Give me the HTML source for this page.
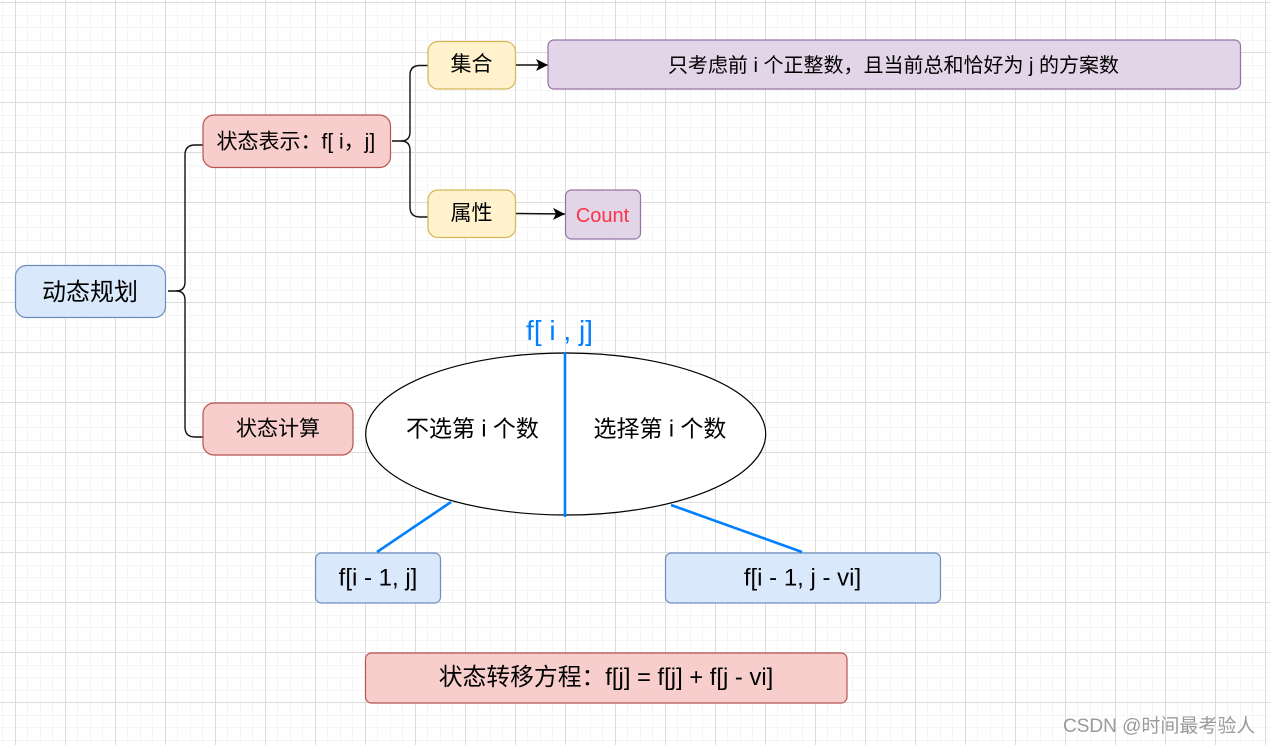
<!DOCTYPE html>
<html><head><meta charset="utf-8"><style>
html,body{margin:0;padding:0;background:#fff;width:1270px;height:745px;overflow:hidden}
svg{display:block}
text{font-family:"Liberation Sans","Noto Sans CJK SC",sans-serif;fill:#000;white-space:pre}
</style></head><body>
<svg width="1270" height="745" viewBox="0 0 1270 745" xmlns="http://www.w3.org/2000/svg">
<defs>
<pattern id="minor" x="2" y="2" width="25" height="25" patternUnits="userSpaceOnUse">
<g fill="#f5f5f5" shape-rendering="crispEdges">
<rect x="0" y="0" width="25" height="1"/><rect x="0" y="13" width="25" height="1"/>
<rect x="0" y="0" width="1" height="25"/><rect x="13" y="0" width="1" height="25"/>
</g>
</pattern>
<pattern id="major" x="15" y="2" width="50" height="50" patternUnits="userSpaceOnUse">
<g fill="#dcdcdc" shape-rendering="crispEdges">
<rect x="0" y="0" width="50" height="1"/><rect x="0" y="0" width="1" height="50"/>
</g>
</pattern>
<marker id="arr" markerUnits="userSpaceOnUse" markerWidth="14" markerHeight="14" refX="12" refY="7" orient="auto">
<path d="M0 1 L12 7 L0 13 L3 7Z" fill="#000"/>
</marker>
</defs>
<rect width="1270" height="745" fill="#fff"/>
<rect width="1270" height="745" fill="url(#minor)"/>
<rect width="1270" height="745" fill="url(#major)"/>

<g fill="none" stroke="#111" stroke-width="1.4">
<path d="M168 291H176Q185 291 185 282V155Q185 145 195 145H203"/>
<path d="M176 291Q185 291 185 300V427Q185 437 195 437H203"/>
<path d="M392 141H401Q410 141 410 132V75Q410 65.500 420 65.500H428"/>
<path d="M401 141Q410 141 410 150V207Q410 217 420 217H428"/>
<path d="M515.500 65H548" stroke-width="1.6" marker-end="url(#arr)"/>
<path d="M516 213.500L565 214" stroke-width="1.6" marker-end="url(#arr)"/>
</g>

<g stroke-width="1.2">
<rect x="15.500" y="265.500" width="150" height="52" rx="11" fill="#dae8fc" stroke="#6c8ebf"/>
<rect x="203" y="115" width="187.500" height="52.500" rx="11" fill="#f8cecc" stroke="#b85450"/>
<rect x="428" y="41.500" width="87.500" height="47.500" rx="10" fill="#fff2cc" stroke="#d6b656"/>
<rect x="428" y="190" width="87.500" height="47.500" rx="10" fill="#fff2cc" stroke="#d6b656"/>
<rect x="548" y="40" width="692.500" height="49" rx="6" fill="#e1d5e7" stroke="#9673a6"/>
<rect x="565.500" y="190" width="75" height="49" rx="6" fill="#e1d5e7" stroke="#9673a6"/>
<rect x="203" y="403" width="150" height="52" rx="11" fill="#f8cecc" stroke="#b85450"/>
<ellipse cx="565.700" cy="434" rx="200" ry="81" fill="#fff" stroke="#000"/>
<rect x="315.500" y="553" width="125" height="50" rx="6" fill="#dae8fc" stroke="#6c8ebf"/>
<rect x="665.500" y="553" width="275" height="50" rx="6" fill="#dae8fc" stroke="#6c8ebf"/>
<rect x="365.500" y="653" width="481.500" height="50" rx="6" fill="#f8cecc" stroke="#b85450"/>
</g>

<g stroke="#007fff" stroke-width="2.6" fill="none">
<path d="M565 352V517"/>
<path d="M451 502L377 552"/>
<path d="M671 505L802 552"/>
</g>

<text x="90" y="300" font-size="24" text-anchor="middle">动态规划</text>
<text x="216.500" y="148.500" font-size="21">状态表示：f[ i，j]</text>
<text x="471.500" y="71" font-size="21" text-anchor="middle">集合</text>
<text x="471.500" y="220" font-size="21" text-anchor="middle">属性</text>
<text x="893.500" y="72" font-size="20" text-anchor="middle">只考虑前 i 个正整数，且当前总和恰好为 j 的方案数</text>
<text x="602.500" y="222" font-size="20" text-anchor="middle" style="fill:#ff3347">Count</text>
<text x="278" y="435.500" font-size="21" text-anchor="middle">状态计算</text>
<text x="559.500" y="340" font-size="28" text-anchor="middle" style="fill:#007fff">f[ i , j]</text>
<text x="472.500" y="436.500" font-size="23" text-anchor="middle">不选第 i 个数</text>
<text x="660" y="436.500" font-size="23" text-anchor="middle">选择第 i 个数</text>
<text x="378" y="585.500" font-size="24" text-anchor="middle">f[i - 1, j]</text>
<text x="802.500" y="585.500" font-size="24" text-anchor="middle">f[i - 1, j - vi]</text>
<text x="606" y="685" font-size="23.800" text-anchor="middle">状态转移方程：f[j] = f[j] + f[j - vi]</text>
<text x="1063" y="732" font-size="19" style="fill:#9a9a9a">CSDN @时间最考验人</text>
</svg>
</body></html>
